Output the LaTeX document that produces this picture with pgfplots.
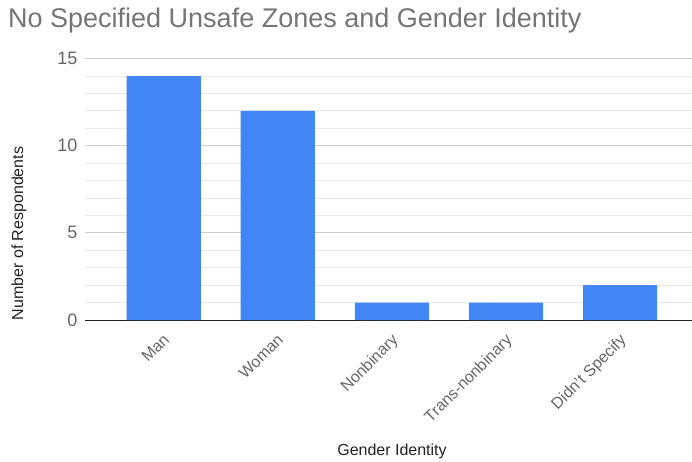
\documentclass[border=0pt]{standalone}
\usepackage{fontspec}
\setmainfont{Liberation Sans}
\usepackage{pgfplots}
\pgfplotsset{compat=1.18}
\definecolor{barblue}{HTML}{4285F4}
\definecolor{titlegray}{HTML}{757575}
\definecolor{tickgray}{HTML}{666666}
\definecolor{labeldark}{HTML}{222222}
\definecolor{gridmajor}{HTML}{CCCCCC}
\definecolor{gridminor}{HTML}{E8E8E8}
\begin{document}
\begin{tikzpicture}
\path[use as bounding box] (-85pt,-141pt) rectangle (607pt,320pt);
\begin{axis}[
  scale only axis, width=607pt, height=261.4pt,
  at={(0,0)}, anchor=south west,
  ybar, bar width=0.65,
  xmin=-0.69, xmax=4.63, ymin=0, ymax=15,
  xtick={0,...,4},
  xticklabels={Man,Woman,Nonbinary,Trans-nonbinary,Didn't Specify},
  ytick={0,5,10,15}, minor ytick={1,2,3,4,6,7,8,9,11,12,13,14},
  ymajorgrids, yminorgrids,
  major grid style={gridmajor, line width=0.8pt},
  minor grid style={gridminor, line width=0.8pt},
  axis x line*=bottom, axis y line*=left,
  y axis line style={draw=none},
  x axis line style={draw=labeldark, line width=1pt, -},
  major tick length=0pt, minor tick length=0pt,
  /pgf/number format/assume math mode=true,
  tick label style={text=tickgray},
  yticklabel style={font=\fontsize{18}{20}\selectfont, xshift=-4pt},
  xticklabel style={font=\fontsize{16}{18}\selectfont, rotate=45, anchor=north east, inner sep=0pt, yshift=-8pt, xshift=-10pt},
]
\addplot[fill=barblue, draw=none] coordinates {(0,14) (1,12) (2,1) (3,1) (4,2)};
\end{axis}
\node[anchor=base west, text=titlegray, font=\fontsize{27}{31}\selectfont, inner sep=0pt] at (-77pt,292pt) {No Specified Unsafe Zones and Gender Identity};
\node[rotate=90, text=labeldark, font=\fontsize{16}{19}\selectfont] at (-66pt,86.5pt) {Number of Respondents};
\node[text=labeldark, font=\fontsize{16}{19}\selectfont] at (307pt,-131pt) {Gender Identity};
\end{tikzpicture}
\end{document}
